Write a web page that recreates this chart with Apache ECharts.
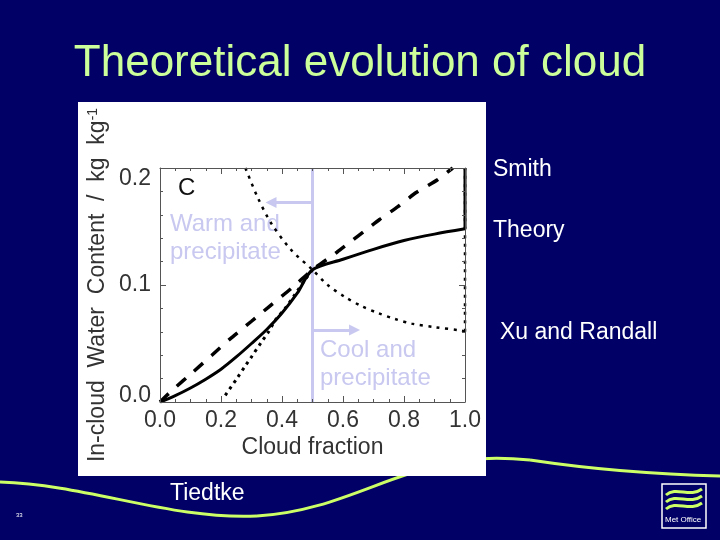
<!DOCTYPE html>
<html>
<head>
<meta charset="utf-8">
<script src="https://cdn.jsdelivr.net/npm/echarts@6/dist/echarts.min.js"></script>
<style>
html,body{margin:0;padding:0;background:#000066;}
#chart{width:720px;height:540px;}
</style>
</head>
<body>
<div id="chart"></div>
<script>
// ---- data ----
var xTicks = [0.0, 0.2, 0.4, 0.6, 0.8, 1.0];
var yTicks = [0.0, 0.1, 0.2];

// Smith (dashed)
var smithX = [0, 0.04, 0.11, 0.17, 0.23, 0.30, 0.36, 0.43, 0.50, 0.58, 0.65, 0.72, 0.78, 0.84, 0.91, 0.96];
var smithY = [0, 0.010, 0.026, 0.040, 0.054, 0.069, 0.082, 0.097, 0.113, 0.128, 0.142, 0.156, 0.167, 0.179, 0.190, 0.200];

// Theory (solid) and its rise along the right edge
var theoryX = [0, 0.05, 0.10, 0.15, 0.20, 0.25, 0.30, 0.35, 0.40, 0.45, 0.50, 0.60, 0.70, 0.80, 0.90, 1.00];
var theoryY = [0, 0.0055, 0.012, 0.0195, 0.028, 0.0385, 0.050, 0.062, 0.076, 0.093, 0.113, 0.122, 0.1305, 0.138, 0.1435, 0.148];
var theoryEdgeX = [1.00, 1.00];
var theoryEdgeY = [0.148, 0.200];

// Xu and Randall (dotted, decreasing) and its rise along the right edge
var xuX = [0.28, 0.32, 0.364, 0.43, 0.50, 0.55, 0.605, 0.66, 0.715, 0.77, 0.825, 0.90, 0.99, 1.00];
var xuY = [0.200, 0.175, 0.153, 0.130, 0.113, 0.100, 0.090, 0.082, 0.076, 0.071, 0.067, 0.064, 0.061, 0.060];
var xuEdgeX = [1.00, 1.00];
var xuEdgeY = [0.060, 0.200];

// Tiedtke (dotted, increasing)
var tiedtkeX = [0.214, 0.252, 0.28, 0.30, 0.333, 0.356, 0.378, 0.41, 0.44, 0.474, 0.50];
var tiedtkeY = [0.0057, 0.020, 0.031, 0.0386, 0.0514, 0.060, 0.070, 0.080, 0.091, 0.104, 0.113];

// annotation positions (data coordinates)
var dividerX = 0.5;
var warmArrow = [0.364, 0.1705];
var coolArrow = [0.638, 0.0616];

function zip(xs, ys) { return xs.map(function (x, i) { return [x, ys[i]]; }); }

var FONT = 'Liberation Sans, Arial, Helvetica, sans-serif';
var LAV = '#c8c8f0';
var AX = '#333333';
var FRAME = '#555555';

var chart = echarts.init(document.getElementById('chart'), null, {renderer: 'canvas'});

function axisBase() {
  return {
    z: 3,
    axisLine: {show: true, onZero: false, lineStyle: {color: FRAME, width: 1}},
    axisTick: {show: true, inside: true, length: 6, lineStyle: {color: FRAME}},
    splitLine: {show: false}
  };
}

var option = {
  backgroundColor: '#000066',
  animation: false,
  title: {
    text: 'Theoretical evolution of cloud',
    left: 'center',
    top: 37,
    textStyle: {color: '#ccff99', fontSize: 44, fontWeight: 'normal', fontFamily: FONT}
  },
  grid: {left: 160, right: 255, top: 168, bottom: 138},
  xAxis: [
    Object.assign(axisBase(), {
      type: 'value', position: 'bottom', min: xTicks[0], max: xTicks[xTicks.length - 1], interval: 0.2,
      minorTick: {show: true, splitNumber: 4, length: 3, lineStyle: {color: FRAME}},
      axisLabel: {color: AX, fontSize: 23, fontFamily: FONT, margin: 7,
        formatter: function (v) { return v.toFixed(1); }},
      name: 'Cloud fraction', nameLocation: 'middle', nameGap: 34,
      nameTextStyle: {color: AX, fontSize: 23, fontFamily: FONT}
    }),
    Object.assign(axisBase(), {
      type: 'value', position: 'top', min: 0, max: 1, interval: 0.2,
      minorTick: {show: true, splitNumber: 4, length: 3, lineStyle: {color: FRAME}},
      axisLabel: {show: false}
    })
  ],
  yAxis: [
    Object.assign(axisBase(), {
      type: 'value', position: 'left', min: yTicks[0], max: yTicks[yTicks.length - 1], interval: 0.1,
      minorTick: {show: true, splitNumber: 5, length: 3, lineStyle: {color: FRAME}},
      axisLabel: {color: AX, fontSize: 23, fontFamily: FONT, margin: 9,
        formatter: function (v) {
          if (Math.abs(v - 0.2) < 1e-9) return '{t|0.2}';
          if (Math.abs(v) < 1e-9) return '{b|0.0}';
          return '{n|' + v.toFixed(1) + '}';
        },
        rich: {
          t: {fontSize: 23, fontFamily: FONT, color: AX, padding: [22, 0, 0, 0]},
          b: {fontSize: 23, fontFamily: FONT, color: AX, padding: [0, 0, 12, 0]},
          n: {fontSize: 23, fontFamily: FONT, color: AX}
        }
      },
      name: '{m|In-cloud  Water  Content  /  kg  kg}{s|-1}', nameLocation: 'middle', nameGap: 50,
      nameTextStyle: {
        color: AX, fontSize: 23, fontFamily: FONT,
        rich: {
          m: {fontSize: 23, fontFamily: FONT, color: AX},
          s: {fontSize: 14, fontFamily: FONT, color: AX, verticalAlign: 'top', padding: [0, 0, 10, 0]}
        }
      }
    }),
    Object.assign(axisBase(), {
      type: 'value', position: 'right', min: 0, max: 0.2, interval: 0.1,
      minorTick: {show: true, splitNumber: 5, length: 3, lineStyle: {color: FRAME}},
      axisLabel: {show: false}
    })
  ],
  series: [
    {
      name: 'Annotations', type: 'line', data: [], silent: true, z: 1,
      markLine: {
        silent: true, animation: false, z: 1,
        label: {show: false},
        lineStyle: {color: LAV, width: 3, type: 'solid'},
        data: [
          [{coord: [dividerX, 0], symbol: 'none'}, {coord: [dividerX, 0.2], symbol: 'none'}],
          [{coord: [dividerX, warmArrow[1]], symbol: 'none'}, {coord: [warmArrow[0], warmArrow[1]], symbol: 'triangle', symbolSize: [11, 11]}],
          [{coord: [dividerX, coolArrow[1]], symbol: 'none'}, {coord: [coolArrow[0], coolArrow[1]], symbol: 'triangle', symbolSize: [11, 11]}]
        ]
      }
    },
    {
      name: 'Smith', type: 'line', data: zip(smithX, smithY), symbol: 'none', z: 2, smooth: 0.2,
      lineStyle: {color: '#000', width: 3.5, type: [12, 11]}
    },
    {
      name: 'Theory', type: 'line', data: zip(theoryX, theoryY), symbol: 'none', z: 2, smooth: 0.3,
      lineStyle: {color: '#000', width: 3, type: 'solid'}
    },
    {
      name: 'Theory edge', type: 'line', data: zip(theoryEdgeX, theoryEdgeY), symbol: 'none', z: 2,
      lineStyle: {color: '#000', width: 3, type: 'solid'}
    },
    {
      name: 'Xu and Randall', type: 'line', data: zip(xuX, xuY), symbol: 'none', z: 2, smooth: 0.3,
      lineStyle: {color: '#000', width: 2.5, type: [3, 5.5]}
    },
    {
      name: 'Xu and Randall edge', type: 'line', data: zip(xuEdgeX, xuEdgeY), symbol: 'none', z: 2,
      lineStyle: {color: '#000', width: 2.5, type: [3, 5.5]}
    },
    {
      name: 'Tiedtke', type: 'line', data: zip(tiedtkeX, tiedtkeY), symbol: 'none', z: 2, smooth: 0.3,
      lineStyle: {color: '#000', width: 3, type: [3, 4.5]}
    }
  ],
  graphic: [
    // decorative swoosh
    {type: 'bezierCurve', z: 0, shape: {x1: 0, y1: 482, cpx1: 90, cpy1: 485, cpx2: 170, cpy2: 520, x2: 257, y2: 516},
      style: {stroke: '#ccff66', lineWidth: 3, fill: null}},
    {type: 'bezierCurve', z: 0, shape: {x1: 257, y1: 516, cpx1: 330, cpy1: 512, cpx2: 380, cpy2: 478, x2: 440, y2: 465},
      style: {stroke: '#ccff66', lineWidth: 3, fill: null}},
    {type: 'bezierCurve', z: 0, shape: {x1: 440, y1: 465, cpx1: 470, cpy1: 457, cpx2: 500, cpy2: 457, x2: 530, y2: 460},
      style: {stroke: '#ccff66', lineWidth: 3, fill: null}},
    {type: 'bezierCurve', z: 0, shape: {x1: 530, y1: 460, cpx1: 570, cpy1: 466, cpx2: 640, cpy2: 474, x2: 720, y2: 476},
      style: {stroke: '#ccff66', lineWidth: 3, fill: null}},
    // white panel
    {type: 'rect', z: 0.5, shape: {x: 78, y: 102, width: 408, height: 374}, style: {fill: '#ffffff'}},
    // panel letter
    {type: 'text', z: 1.5, left: 178, top: 176, style: {text: 'C', fill: '#111', fontSize: 24, fontFamily: FONT}},
    // annotations on panel
    {type: 'text', z: 1.5, left: 170, top: 210, style: {text: 'Warm and\nprecipitate', fill: LAV, fontSize: 24, lineHeight: 28, fontFamily: FONT}},
    {type: 'text', z: 1.5, left: 320, top: 336, style: {text: 'Cool and\nprecipitate', fill: LAV, fontSize: 24, lineHeight: 28, fontFamily: FONT}},
    // series names on slide
    {type: 'text', z: 1.5, left: 493, top: 158, style: {text: 'Smith', fill: '#fff', fontSize: 23, fontFamily: FONT}},
    {type: 'text', z: 1.5, left: 493, top: 219, style: {text: 'Theory', fill: '#fff', fontSize: 23, fontFamily: FONT}},
    {type: 'text', z: 1.5, left: 500, top: 321, style: {text: 'Xu and Randall', fill: '#fff', fontSize: 23, fontFamily: FONT}},
    {type: 'text', z: 1.5, left: 170, top: 482, style: {text: 'Tiedtke', fill: '#fff', fontSize: 23, fontFamily: FONT}},
    // slide number
    {type: 'text', z: 1.5, left: 16, top: 512, style: {text: '33', fill: '#fff', fontSize: 6, fontFamily: FONT}},
    // Met Office logo
    {type: 'rect', z: 1, shape: {x: 662, y: 484, width: 44, height: 44}, style: {fill: '#000066', stroke: '#ffffff', lineWidth: 1.5}},
    {type: 'bezierCurve', z: 1.2, shape: {x1: 666, y1: 495, cpx1: 676, cpy1: 486, cpx2: 690, cpy2: 498, x2: 702, y2: 489},
      style: {stroke: '#ccff66', lineWidth: 3, fill: null}},
    {type: 'bezierCurve', z: 1.2, shape: {x1: 666, y1: 502, cpx1: 676, cpy1: 493, cpx2: 690, cpy2: 505, x2: 702, y2: 496},
      style: {stroke: '#ccff66', lineWidth: 3, fill: null}},
    {type: 'bezierCurve', z: 1.2, shape: {x1: 666, y1: 509, cpx1: 676, cpy1: 500, cpx2: 690, cpy2: 512, x2: 702, y2: 503},
      style: {stroke: '#ccff66', lineWidth: 3, fill: null}},
    {type: 'text', z: 1.2, left: 665, top: 516, style: {text: 'Met Office', fill: '#fff', fontSize: 8, fontFamily: FONT}}
  ]
};
chart.setOption(option);
</script>
</body>
</html>
